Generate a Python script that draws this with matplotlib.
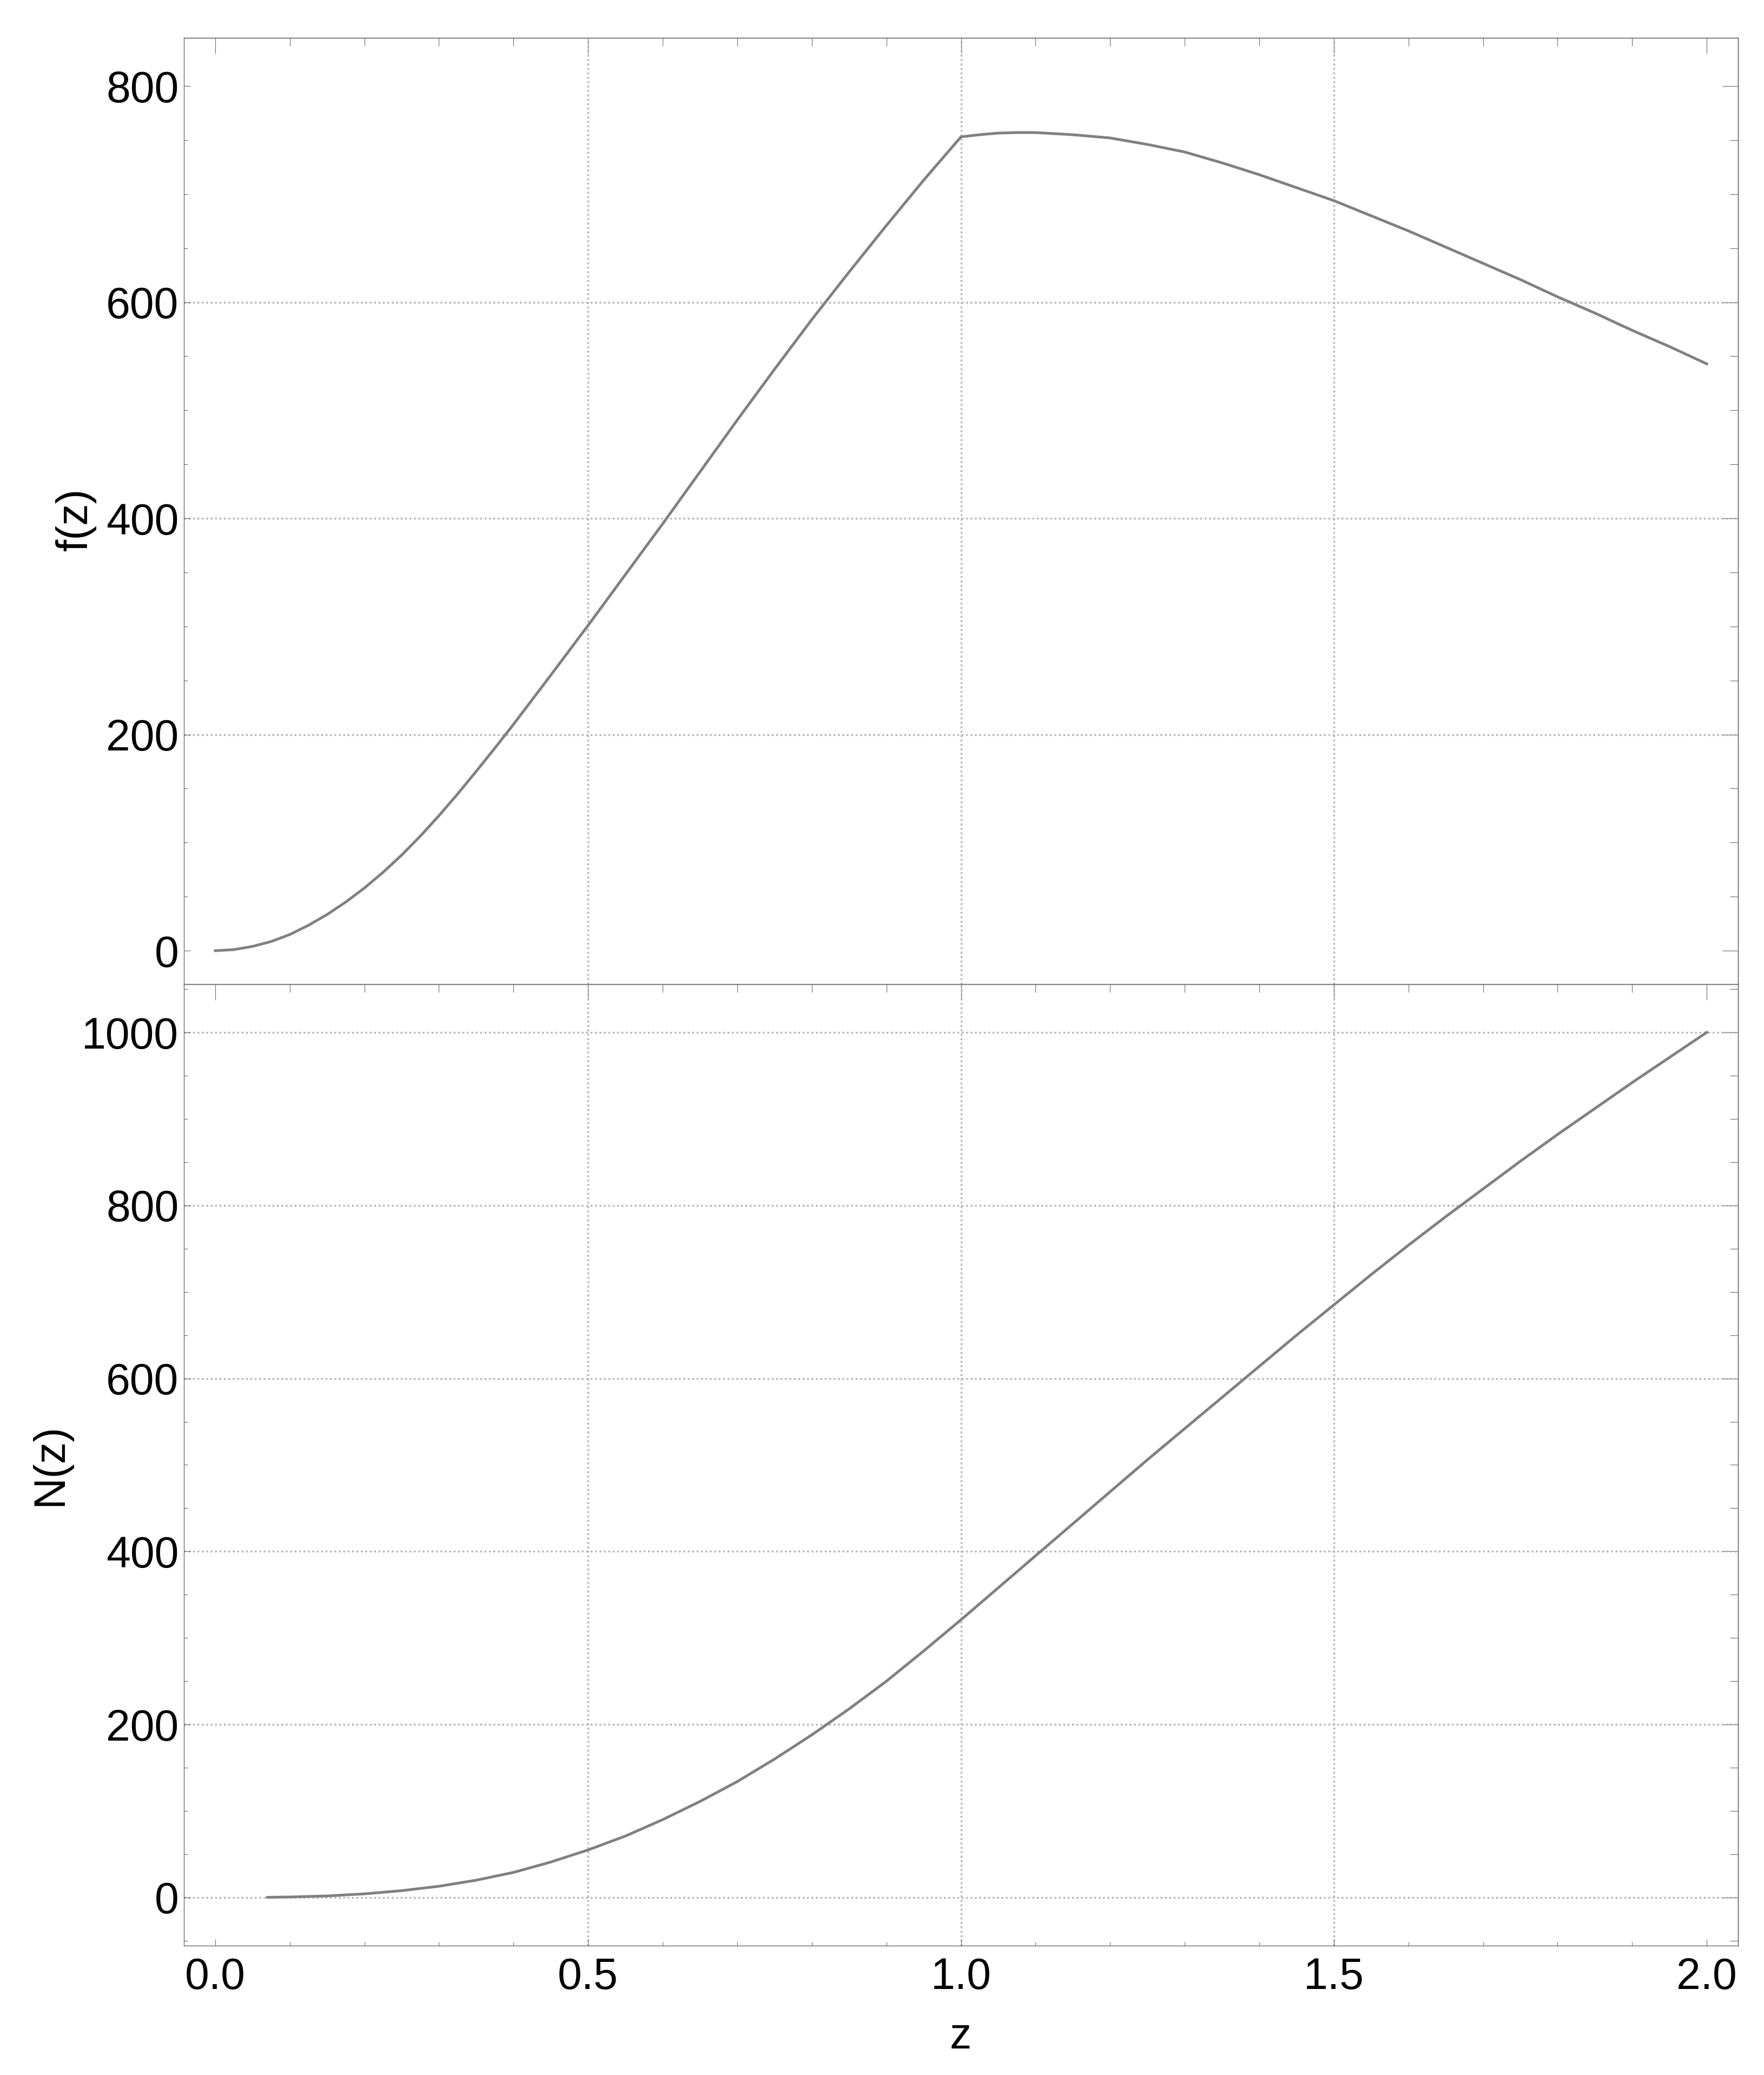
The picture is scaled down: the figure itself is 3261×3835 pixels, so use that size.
import numpy as np
import matplotlib
matplotlib.use("Agg")
import matplotlib.pyplot as plt

plt.rcParams['font.family'] = ['Liberation Sans', 'DejaVu Sans']

# --- data ---
z_f = [0.0, 0.025, 0.05, 0.075, 0.1, 0.125, 0.15, 0.175, 0.2, 0.225, 0.25,
       0.275, 0.3, 0.325, 0.35, 0.375, 0.4, 0.45, 0.5,
       0.55, 0.6, 0.65, 0.7, 0.75, 0.8, 0.85, 0.9, 0.95, 1.0,
       1.025, 1.05, 1.075, 1.1, 1.125, 1.15, 1.175, 1.2, 1.25, 1.3, 1.35, 1.4, 1.45, 1.5,
       1.55, 1.6, 1.65, 1.7, 1.75, 1.8, 1.85, 1.9, 1.95, 2.0]
f_vals = [0, 1, 4, 8.5, 15, 23.5, 33.5, 45, 58, 72.5, 88.5,
          106, 125, 145, 166, 187.5, 209.5, 255, 301,
          348, 395, 443, 491, 538, 584, 628, 671, 713, 753,
          755, 756.5, 757, 757, 756, 755, 753.5, 752, 746, 739, 729, 718, 706, 694,
          680, 666, 651, 636, 621, 605, 590, 574, 559, 543]

z_n = [0.07, 0.1, 0.15, 0.2, 0.25, 0.3, 0.35, 0.4, 0.45, 0.5,
       0.55, 0.6, 0.65, 0.7, 0.75, 0.8, 0.85, 0.9, 0.95, 1.0,
       1.05, 1.1, 1.15, 1.2, 1.25, 1.3, 1.35, 1.4, 1.45, 1.5,
       1.55, 1.6, 1.65, 1.7, 1.75, 1.8, 1.85, 1.9, 1.95, 2.0]
n_vals = [0.2, 0.6, 1.8, 4.2, 7.9, 13, 20, 29, 41, 55,
          71, 90, 111, 134, 160, 188, 218, 250, 285, 321,
          358, 395, 432, 469, 506, 542, 578, 614, 650, 685,
          720, 754, 787, 819, 851, 882, 912, 942, 971, 1000]

x_major = [0.0, 0.5, 1.0, 1.5, 2.0]
x_labels = ['0.0', '0.5', '1.0', '1.5', '2.0']
x_grid = [0.5, 1.0, 1.5]
f_major = [0, 200, 400, 600, 800]
f_grid = [200, 400, 600]
n_major = [0, 200, 400, 600, 800, 1000]
n_grid = [0, 200, 400, 600, 800, 1000]

# --- style ---
W, H = 3262, 3835
DPI = 100
frame_c = '#6b6b6b'
line_c = '#808080'
grid_c = '#b4b4b4'
fs = 58

fig = plt.figure(figsize=(W / DPI, H / DPI), dpi=DPI)

left = 340 / W
width = (3213 - 340) / W
ax_f = fig.add_axes([left, 1 - 1819 / H, width, (1819 - 70) / H])
ax_n = fig.add_axes([left, 1 - 3596 / H, width, (3596 - 1819) / H])

xlim = (-0.042, 2.042)


def style_axis(ax, y_major, y_minor, ylim, show_bottom):
    for s in ax.spines.values():
        s.set_color(frame_c)
        s.set_linewidth(1.0)
    x_minor = np.arange(0, 2.001, 0.1)
    ax.set_xticks(x_major)
    ax.set_xticks(x_minor, minor=True)
    ax.set_yticks(y_major)
    ax.set_yticks(y_minor, minor=True)
    ax.set_yticklabels([str(v) for v in y_major])
    ax.tick_params(which='both', direction='in', color=frame_c, width=0.8,
                   labelsize=fs, labelcolor='black', top=False, right=False)
    ax.tick_params(which='major', length=8.6)
    ax.tick_params(which='minor', length=5)
    ax.tick_params(axis='y', pad=7)
    if show_bottom:
        ax.set_xticklabels(x_labels)
        ax.tick_params(axis='x', pad=15)
    else:
        ax.tick_params(axis='x', which='both', bottom=False, labelbottom=False)

    # long mirrored ticks on top and right
    top = ax.secondary_xaxis('top')
    top.set_xticks(x_major)
    top.set_xticks(x_minor, minor=True)
    top.tick_params(which='both', direction='in', color=frame_c, width=0.8, labeltop=False)
    top.tick_params(which='major', length=21)
    top.tick_params(which='minor', length=10.8)
    top.spines['top'].set_color(frame_c)
    top.spines['top'].set_linewidth(1.0)

    right = ax.secondary_yaxis('right')
    right.set_yticks(y_major)
    right.set_yticks(y_minor, minor=True)
    right.tick_params(which='both', direction='in', color=frame_c, width=0.8, labelright=False)
    right.tick_params(which='major', length=21)
    right.tick_params(which='minor', length=10.8)
    right.spines['right'].set_color(frame_c)
    right.spines['right'].set_linewidth(1.0)

    # limits last, so the tick lists cannot widen them
    ax.set_xlim(*xlim)
    ax.set_ylim(*ylim)


def draw_grid(ax, ygrid):
    kw = dict(color=grid_c, lw=2.4, linestyle=(0, (1.0, 1.45)), zorder=1)
    for gx in x_grid:
        ax.axvline(gx, **kw)
    for gy in ygrid:
        ax.axhline(gy, **kw)


style_axis(ax_f, f_major, np.arange(0, 801, 50), (-31, 844.6), False)
style_axis(ax_n, n_major, np.arange(-50, 1051, 50), (-55.7, 1055.7), True)

draw_grid(ax_f, f_grid)
draw_grid(ax_n, n_grid)

ax_f.plot(z_f, f_vals, color=line_c, lw=3.6, zorder=3, solid_joinstyle='round')
ax_n.plot(z_n, n_vals, color=line_c, lw=3.6, zorder=3, solid_joinstyle='round')

ax_f.set_xlim(*xlim)
ax_f.set_ylim(-31, 844.6)
ax_n.set_xlim(*xlim)
ax_n.set_ylim(-55.7, 1055.7)

fig.text(140 / W, 1 - 960 / H, 'f(z)', rotation=90, ha='center', va='center', fontsize=fs)
fig.text(93 / W, 1 - 2707 / H, 'N(z)', rotation=90, ha='center', va='center', fontsize=fs)
fig.text(1776 / W, 1 - 3765 / H, 'z', ha='center', va='center', fontsize=fs)

fig.savefig('out.png', dpi=DPI, facecolor='white')
